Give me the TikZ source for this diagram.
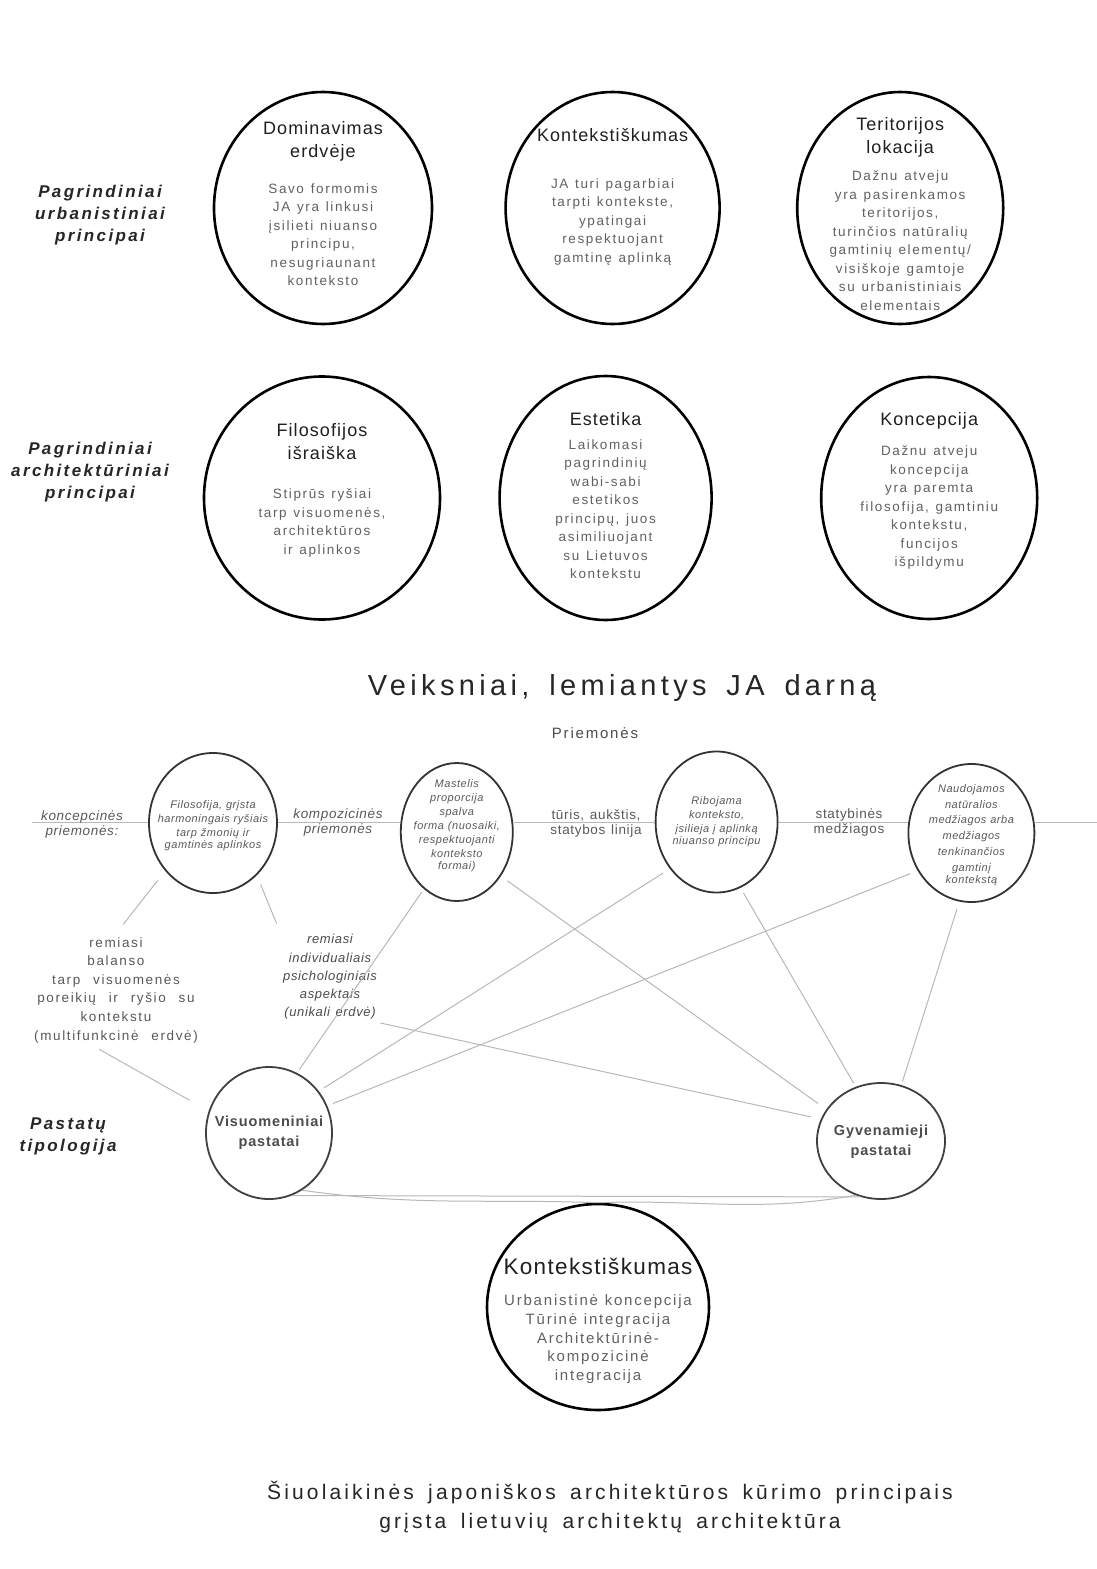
\documentclass[tikz,border=0pt]{standalone}
\usepackage{fontspec}
\setmainfont{Liberation Sans}
\newfontfamily\headfam[LetterSpace=6,WordSpace=1.4]{Liberation Sans}
\newfontfamily\bodyfam[LetterSpace=12,WordSpace=2.4]{Liberation Sans}
\newfontfamily\sidefam[LetterSpace=14,WordSpace=1.5]{Liberation Sans}
\newfontfamily\notefam[LetterSpace=5,WordSpace=1.3]{Liberation Sans}
\newfontfamily\widefam[LetterSpace=15,WordSpace=1.6]{Liberation Sans}
\usetikzlibrary{shapes.geometric,positioning}

\newcommand{\headtxt}{\headfam\fontsize{18}{23}\selectfont\color{black!88}\spaceskip=0.4em\relax}
\newcommand{\bodytxt}{\bodyfam\fontsize{13.5}{18.5}\selectfont\color{black!62}\spaceskip=0.5em\relax}
\newcommand{\meanstxt}{\notefam\itshape\fontsize{11}{14}\selectfont\color{black!65}\spaceskip=0.35em\relax}

\tikzstyle{principle} = [ellipse, draw=black, line width=2.6pt, fill=white, minimum width=218pt, minimum height=232pt, inner sep=0pt]
\tikzstyle{means} = [ellipse, draw=black!80, line width=1.8pt, fill=white, minimum width=126pt, minimum height=140pt, inner sep=0pt]
\tikzstyle{typology} = [ellipse, draw=black!75, line width=1.8pt, fill=white, minimum width=126pt, minimum height=130pt, inner sep=0pt]
\tikzstyle{circtext} = [align=center, text width=215pt, inner sep=0pt]
\tikzstyle{smalltext} = [align=center, text width=135pt, inner sep=0pt]
\tikzstyle{sidelbl} = [align=center, font=\sidefam\bfseries\itshape\fontsize{17}{22}\selectfont, text=black!85]
\tikzstyle{linelbl} = [align=center, font=\notefam\fontsize{13.5}{15}\selectfont, text=black!65]
\tikzstyle{link} = [draw=black!28, line width=1pt]

\begin{document}
\begin{tikzpicture}[x=1pt, y=-1pt]

\path[use as bounding box, fill=white] (0,0) rectangle (1097,1569);

% urbanistiniai principai
\node (urb) [sidelbl] at (100,215) {Pagrindiniai\\urbanistiniai\\principai};

\node (dom) [principle] at (323,208) {};
\node (kont) [principle, minimum width=214pt, right = 71pt of dom] {};
\node (terr) [principle, minimum width=206pt, right = 75pt of kont] {};

\node (domtx) [circtext, yshift=4pt] at (dom) {{\headtxt Dominavimas\\erdvėje\par}\vspace{17pt}{\bodytxt Savo formomis\\JA yra linkusi\\įsilieti niuanso\\principu,\\nesugriaunant\\konteksto\par}};
\node (konttx) [circtext, yshift=11pt] at (kont) {{\headtxt Kontekstiškumas\par}\vspace{28pt}{\bodytxt JA turi pagarbiai\\tarpti kontekste,\\ypatingai\\respektuojant\\gamtinę aplinką\par}};
\node (terrtx) [circtext, yshift=-6pt] at (terr) {{\headtxt Teritorijos\\lokacija\par}\vspace{9pt}{\bodytxt Dažnu atveju\\yra pasirenkamos\\teritorijos,\\turinčios natūralių\\gamtinių elementų/\\visiškoje gamtoje\\su urbanistiniais\\elementais\par}};

% architekturiniai principai
\node (arch) [sidelbl] at (90,472) {Pagrindiniai\\architektūriniai\\principai};

\node (filo) [principle, minimum width=236pt, minimum height=243pt] at (322,498) {};
\node (est) [principle, minimum width=212pt, minimum height=244pt, right = 57pt of filo] {};
\node (konc) [principle, minimum width=216pt, minimum height=242pt, right = 107pt of est] {};

\node (filotx) [circtext, yshift=8pt] at (filo) {{\headtxt Filosofijos\\išraiška\par}\vspace{21pt}{\bodytxt Stiprūs ryšiai\\tarp visuomenės,\\architektūros\\ir aplinkos\par}};
\node (esttx) [circtext, yshift=2pt] at (est) {{\headtxt Estetika\par}\vspace{5pt}{\bodytxt Laikomasi\\pagrindinių\\wabi-sabi\\estetikos\\principų, juos\\asimiliuojant\\su Lietuvos\\kontekstu\par}};
\node (konctx) [circtext, yshift=7pt] at (konc) {{\headtxt Koncepcija\par}\vspace{12pt}{\bodytxt Dažnu atveju\\koncepcija\\yra paremta\\filosofija, gamtiniu\\kontekstu,\\funcijos\\išpildymu\par}};

% priemones
\node (title) [font=\widefam\fontsize{29}{32}\selectfont, text=black!85] at (622,688) {Veiksniai, lemiantys JA darną};
\node (tools) [font=\bodyfam\fontsize{15}{18}\selectfont, text=black!70] at (595,733) {Priemonės};

\node (c1) [means, minimum width=128pt] at (213,823) {};
\node (c2) [means, minimum width=112pt, minimum height=138pt, right = 122pt of c1, yshift=-9pt] {};
\node (c3) [means, minimum width=122pt, minimum height=141pt, right = 141pt of c2, yshift=10pt] {};
\node (c4) [means, minimum width=126pt, minimum height=138pt, right = 129pt of c3, yshift=-11pt] {};

\node (c1tx) [smalltext, yshift=-3pt] at (c1) {\meanstxt Filosofija, grįsta\\harmoningais ryšiais\\tarp žmonių ir\\gamtinės aplinkos};
\node (c2tx) [smalltext, yshift=6pt] at (c2) {\meanstxt Mastelis\\proporcija\\spalva\\forma (nuosaiki,\\respektuojanti\\konteksto\\formai)};
\node (c3tx) [smalltext] at (c3) {\meanstxt Ribojama\\konteksto,\\įsilieja į aplinką\\niuanso principu};
\node (c4tx) [smalltext, yshift=-2pt] at (c4) {\meanstxt\baselineskip=15.8pt Naudojamos\\natūralios\\medžiagos arba\\medžiagos\\tenkinančios\\gamtinį\\kontekstą};

\coordinate (lstart) at (32,822);
\coordinate (lend) at (1097,822);
\draw [link] (lstart) -- (c1.west |- lstart) (c1.east |- lstart) -- (c2.west |- lstart)
  (c2.east |- lstart) -- (c3.west |- lstart) (c3.east |- lstart) -- (c4.west |- lstart)
  (c4.east |- lstart) -- (lend);

\node (kon) [linelbl, font=\notefam\itshape\fontsize{13.5}{15}\selectfont] at (82,824) {koncepcinės\\priemonės:};
\node (komp) [linelbl, font=\notefam\itshape\fontsize{13.5}{15}\selectfont] at (338,822) {kompozicinės\\priemonės};
\node (tur) [linelbl] at (596,823) {tūris, aukštis,\\statybos linija};
\node (stat) [linelbl] at (849,822) {statybinės\\medžiagos};

% pastatu tipologija
\node (tip) [sidelbl] at (68,1136) {Pastatų\\tipologija};

\node (balA) [align=center, font=\bodyfam\fontsize{13.5}{18.6}\selectfont, text=black!65] at (116,990) {remiasi\\balanso\\tarp visuomenės\\poreikių ir ryšio su\\kontekstu\\(multifunkcinė erdvė)};
\node (indB) [align=center, font=\notefam\itshape\fontsize{13}{18.2}\selectfont, text=black!70] at (330,977) {remiasi\\individualiais\\psichologiniais\\aspektais\\(unikali erdvė)};

\node (v) [typology, minimum height=132pt] at (269,1133) {};
\node (g) [typology, minimum width=128pt, minimum height=116pt] at (881,1141) {};
\node (vtx) [smalltext, font=\headfam\bfseries\fontsize{14.5}{20}\selectfont, text=black!70] at (v) {Visuomeniniai\\pastatai};
\node (gtx) [smalltext, font=\headfam\bfseries\fontsize{14.5}{20}\selectfont, text=black!70, yshift=-1pt] at (g) {Gyvenamieji\\pastatai};

\draw [link, shorten <=12pt, shorten >=12pt] (c1.225) -- (balA.north);
\draw [link, shorten <=6pt, shorten >=22pt] ([xshift=-22pt]balA.south) -- (v.160);
\draw [link, shorten <=10pt, shorten >=8pt] (c1.-50) -- (indB.north west);
\draw [link, shorten >=10pt] (indB.south east) -- (g.160);
\draw [link, shorten <=4pt, shorten >=4pt] (c2.240) -- (v.65);
\draw [link, shorten <=8pt, shorten >=10pt] (c2.-45) -- (g.150);
\draw [link, shorten <=8pt, shorten >=6pt] (c3.-135) -- (v.40);
\draw [link, shorten <=8pt, shorten >=6pt] (c4.-145) -- (v.25);
\draw [link, shorten <=6pt, shorten >=4pt] (c3.-70) -- (g.115);
\draw [link, shorten <=8pt, shorten >=4pt] (c4.-100) -- (g.70);

% kontekstiskumas
\node (k) [principle, minimum width=222pt, minimum height=206pt] at (598,1307) {};
\node (ktx) [circtext, yshift=-14pt] at (k) {{\headfam\fontsize{22.5}{26}\selectfont\color{black!88}Kontekstiškumas\par}\vspace{12pt}{\bodyfam\fontsize{15}{18.8}\selectfont\color{black!62}\spaceskip=0.45em\relax Urbanistinė koncepcija\\Tūrinė integracija\\Architektūrinė-\\kompozicinė\\integracija\par}};

\draw [link] (v.-70) -- (g.-110);
\draw [link] (v.-60) to[out=-8, in=178] (k.north) to[out=2, in=-170] (g.-115);

\node (caption) [align=center, font=\widefam\fontsize{21}{29}\selectfont, text=black!85] at (610,1507) {Šiuolaikinės japoniškos architektūros kūrimo principais\\grįsta lietuvių architektų architektūra};

\end{tikzpicture}
\end{document}
